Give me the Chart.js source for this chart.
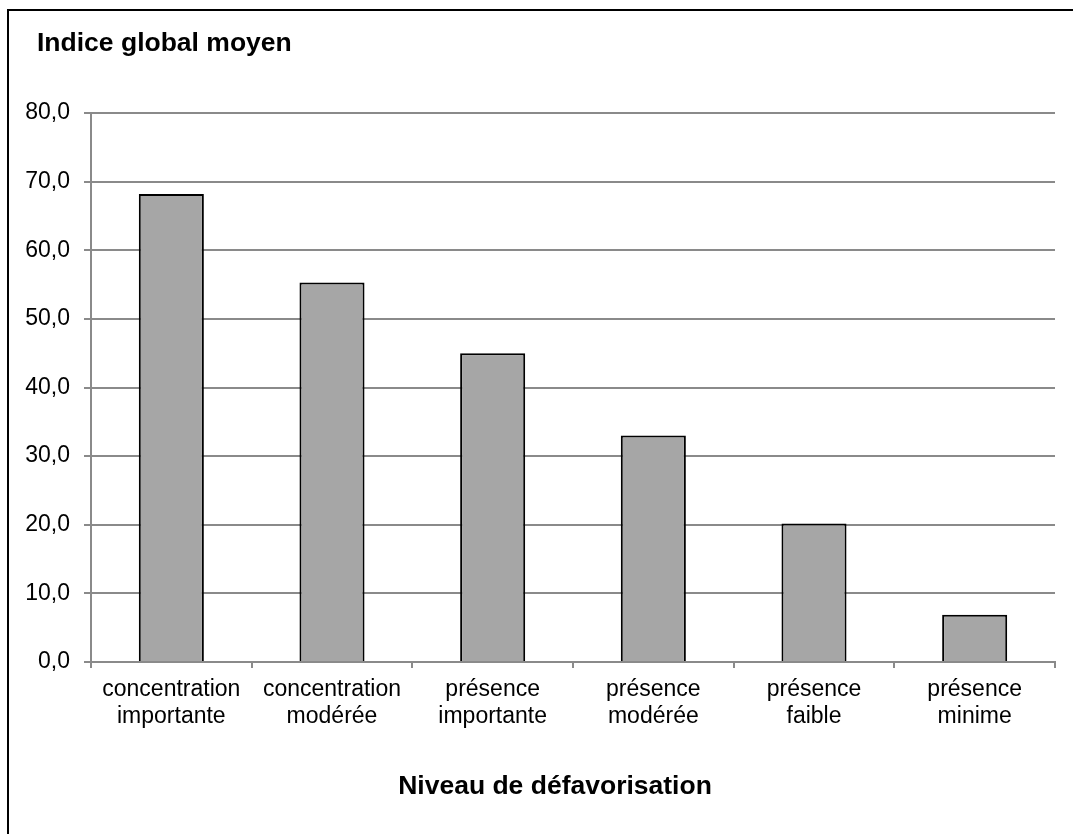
<!DOCTYPE html>
<html>
<head>
<meta charset="utf-8">
<script src="https://cdn.jsdelivr.net/npm/chart.js@4"></script>
<style>
  body { margin: 0; background: #fff; overflow: hidden; }
  #frame { position: absolute; left: 7px; top: 9px; width: 1100px; height: 900px; border: 2px solid #000; }
  #myChart { position: absolute; left: 0; top: 0; }
</style>
</head>
<body>
<div id="frame"></div>
<canvas id="myChart" width="1073" height="834"></canvas>
<script>
const categories = [
    ['concentration', 'importante'],
    ['concentration', 'modérée'],
    ['présence', 'importante'],
    ['présence', 'modérée'],
    ['présence', 'faible'],
    ['présence', 'minime']
];
const values = [68.2, 55.3, 45.0, 33.0, 20.2, 6.9];
const yTitle = 'Indice global moyen';
const xTitle = 'Niveau de défavorisation';

const fontFamily = '"Liberation Sans", Arial, sans-serif';
const gridColor = '#8a8a8a';

// the two titles sit where Excel put them, not centred on the axes
const titlesPlugin = {
    id: 'titles',
    afterDraw(chart) {
        const ctx = chart.ctx;
        ctx.save();
        ctx.font = 'bold 26.5px ' + fontFamily;
        ctx.fillStyle = '#000';
        ctx.textBaseline = 'middle';
        ctx.textAlign = 'left';
        ctx.fillText(yTitle, 37, 44);
        ctx.textAlign = 'center';
        ctx.fillText(xTitle, 555, 787);
        ctx.restore();
    }
};

new Chart(document.getElementById('myChart'), {
    type: 'bar',
    data: {
        labels: categories,
        datasets: [{
            data: values,
            backgroundColor: '#a6a6a6',
            borderColor: '#000',
            borderWidth: 2,
            borderSkipped: 'bottom',
            barPercentage: 0.405,
            categoryPercentage: 1
        }]
    },
    options: {
        responsive: false,
        animation: false,
        layout: { padding: { left: 8, right: 18, top: 113, bottom: 0 } },
        plugins: {
            legend: { display: false },
            tooltip: { enabled: false },
            title: { display: false }
        },
        scales: {
            y: {
                min: 0,
                max: 80,
                afterFit(scale) { scale.width = 83; },
                ticks: {
                    stepSize: 10,
                    color: '#000',
                    padding: 14,
                    font: { family: fontFamily, size: 23 },
                    callback: v => v.toFixed(1).replace('.', ',')
                },
                grid: { color: gridColor, lineWidth: 2, tickLength: 7 },
                border: { color: gridColor, width: 2 }
            },
            x: {
                afterFit(scale) { scale.height = 172; },
                ticks: {
                    color: '#000',
                    padding: 8,
                    maxRotation: 0,
                    font: { family: fontFamily, size: 23, lineHeight: 1.17 }
                },
                grid: { drawOnChartArea: false, color: gridColor, lineWidth: 2, tickLength: 6, offset: true },
                border: { color: gridColor, width: 2 }
            }
        }
    },
    plugins: [titlesPlugin]
});
</script>
</body>
</html>
